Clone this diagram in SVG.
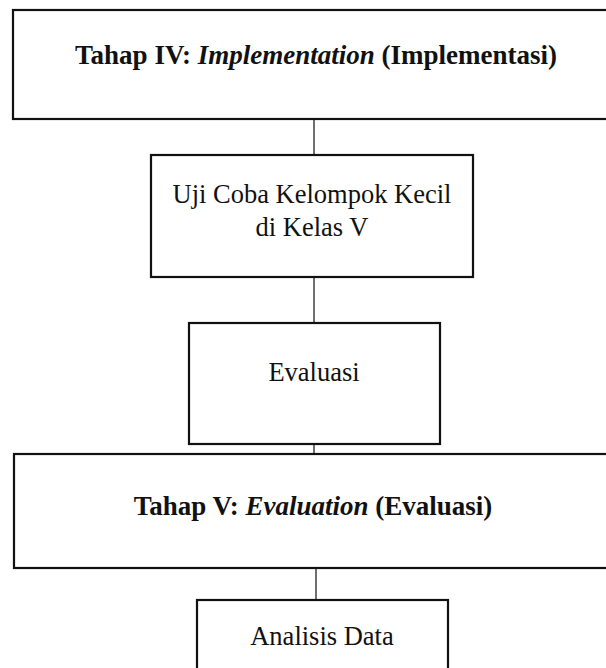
<svg xmlns="http://www.w3.org/2000/svg" width="606" height="668" viewBox="0 0 606 668">
<style>
.box{fill:#fff;stroke:#111;stroke-width:2.2}
.con{stroke:#333;stroke-width:1.4;fill:none}
.t{font-family:"Liberation Serif","Times New Roman",serif;font-size:26.5px;fill:#111;text-anchor:middle}
.b{font-weight:bold;font-size:27px}
.i{font-style:italic}
</style>
<rect width="606" height="668" fill="#fff"/>
<g id="connectors">
<line class="con" x1="314" y1="119" x2="314" y2="155"/>
<line class="con" x1="314" y1="277" x2="314" y2="323"/>
<line class="con" x1="314" y1="444" x2="314" y2="454"/>
<line class="con" x1="316" y1="568" x2="316" y2="600"/>
</g>
<g id="tahap4">
<rect class="box" x="13" y="10" width="600" height="109"/>
<text class="t b" x="316" y="64">Tahap IV: <tspan class="i">Implementation</tspan> (Implementasi)</text>
</g>
<g id="ujicoba">
<rect class="box" x="151" y="155" width="322" height="122"/>
<text class="t" x="312" y="203">Uji Coba Kelompok Kecil</text>
<text class="t" x="312" y="236">di Kelas V</text>
</g>
<g id="evaluasi">
<rect class="box" x="189" y="323" width="251" height="121"/>
<text class="t" x="314" y="381">Evaluasi</text>
</g>
<g id="tahap5">
<rect class="box" x="14" y="454" width="600" height="114"/>
<text class="t b" x="313" y="515">Tahap V: <tspan class="i">Evaluation</tspan> (Evaluasi)</text>
</g>
<g id="analisis">
<rect class="box" x="197" y="600" width="251" height="120"/>
<text class="t" x="322" y="645">Analisis Data</text>
</g>
</svg>
